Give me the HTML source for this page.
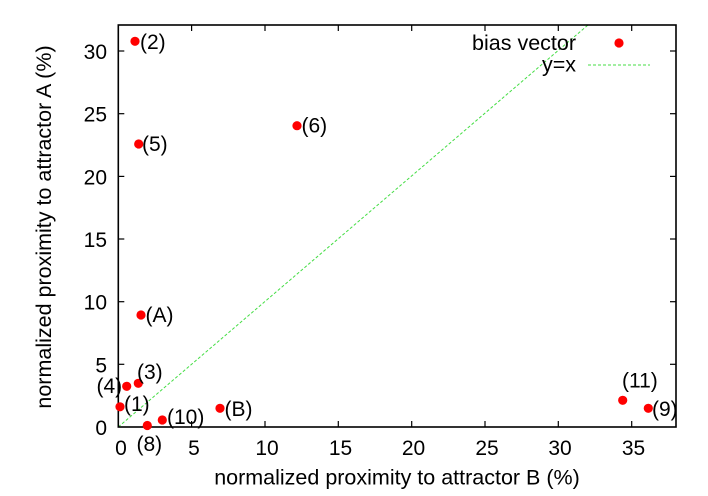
<!DOCTYPE html>
<html>
<head>
<meta charset="utf-8">
<style>
html,body{margin:0;padding:0;background:#fff;}
svg{display:block;}
text{font-family:"Liberation Sans",Arial,sans-serif;font-size:21px;fill:#000;}
text.big{font-size:21.5px;}
</style>
</head>
<body>
<svg width="708" height="496" viewBox="0 0 708 496" xmlns="http://www.w3.org/2000/svg">
<rect x="0" y="0" width="708" height="496" fill="#fff"/>

<!-- y=x line -->
<line x1="118.3" y1="427" x2="588" y2="25" stroke="#44dd44" stroke-width="1" stroke-dasharray="3,2"/>

<!-- frame -->
<rect x="118.3" y="25" width="557.7" height="402" fill="none" stroke="#000" stroke-width="1.6"/>

<!-- ticks -->
<g stroke="#000" stroke-width="1.2">
  <line x1="191.6" y1="427" x2="191.6" y2="421"/>
  <line x1="265" y1="427" x2="265" y2="421"/>
  <line x1="338.3" y1="427" x2="338.3" y2="421"/>
  <line x1="411.7" y1="427" x2="411.7" y2="421"/>
  <line x1="485" y1="427" x2="485" y2="421"/>
  <line x1="558.3" y1="427" x2="558.3" y2="421"/>
  <line x1="631.7" y1="427" x2="631.7" y2="421"/>
  <line x1="191.6" y1="25" x2="191.6" y2="31"/>
  <line x1="265" y1="25" x2="265" y2="31"/>
  <line x1="338.3" y1="25" x2="338.3" y2="31"/>
  <line x1="411.7" y1="25" x2="411.7" y2="31"/>
  <line x1="485" y1="25" x2="485" y2="31"/>
  <line x1="558.3" y1="25" x2="558.3" y2="31"/>
  <line x1="631.7" y1="25" x2="631.7" y2="31"/>
  <line x1="118.3" y1="364.3" x2="124.3" y2="364.3"/>
  <line x1="118.3" y1="301.7" x2="124.3" y2="301.7"/>
  <line x1="118.3" y1="239" x2="124.3" y2="239"/>
  <line x1="118.3" y1="176.4" x2="124.3" y2="176.4"/>
  <line x1="118.3" y1="113.7" x2="124.3" y2="113.7"/>
  <line x1="118.3" y1="51" x2="124.3" y2="51"/>
  <line x1="676" y1="364.3" x2="670" y2="364.3"/>
  <line x1="676" y1="301.7" x2="670" y2="301.7"/>
  <line x1="676" y1="239" x2="670" y2="239"/>
  <line x1="676" y1="176.4" x2="670" y2="176.4"/>
  <line x1="676" y1="113.7" x2="670" y2="113.7"/>
  <line x1="676" y1="51" x2="670" y2="51"/>
</g>

<!-- y tick labels -->
<g text-anchor="end">
  <text x="107" y="435">0</text>
  <text x="107" y="372.3">5</text>
  <text x="107" y="309.7">10</text>
  <text x="107" y="247">15</text>
  <text x="107" y="184.4">20</text>
  <text x="107" y="121.7">25</text>
  <text x="107" y="59">30</text>
</g>

<!-- x tick labels -->
<g text-anchor="middle">
  <text x="121" y="455">0</text>
  <text x="194" y="455">5</text>
  <text x="267" y="455">10</text>
  <text x="340.5" y="455">15</text>
  <text x="413.5" y="455">20</text>
  <text x="487" y="455">25</text>
  <text x="560" y="455">30</text>
  <text x="633.5" y="455">35</text>
</g>

<!-- axis labels -->
<text class="big" x="397" y="484.5" text-anchor="middle">normalized proximity to attractor B (%)</text>
<text class="big" transform="translate(51,227) rotate(-90)" text-anchor="middle">normalized proximity to attractor A (%)</text>

<!-- legend -->
<text class="big" x="576" y="50" text-anchor="end">bias vector</text>
<circle cx="619" cy="43" r="4.6" fill="#ff0000"/>
<text class="big" x="576" y="71.5" text-anchor="end">y=x</text>
<line x1="588" y1="65" x2="650" y2="65" stroke="#44dd44" stroke-width="1" stroke-dasharray="3,2"/>

<!-- points -->
<g fill="#ff0000">
  <circle cx="135" cy="41.3" r="4.6"/>
  <circle cx="138.7" cy="144" r="4.6"/>
  <circle cx="297" cy="125.7" r="4.6"/>
  <circle cx="141" cy="315" r="4.6"/>
  <circle cx="138.3" cy="383.3" r="4.6"/>
  <circle cx="126.7" cy="386.3" r="4.6"/>
  <circle cx="120" cy="406.8" r="4.6"/>
  <circle cx="147.3" cy="425.5" r="4.6"/>
  <circle cx="162.3" cy="420" r="4.6"/>
  <circle cx="220" cy="408.3" r="4.6"/>
  <circle cx="622.7" cy="400.3" r="4.6"/>
  <circle cx="648.3" cy="408.3" r="4.6"/>
</g>

<!-- point labels -->
<text x="140" y="49">(2)</text>
<text x="142" y="150.8">(5)</text>
<text x="301.5" y="132.5">(6)</text>
<text x="145.5" y="322">(A)</text>
<text x="137" y="378.8">(3)</text>
<text x="96.5" y="392.8">(4)</text>
<text x="124" y="410.8">(1)</text>
<text x="136.5" y="450.8">(8)</text>
<text x="167" y="423.8">(10)</text>
<text x="224.5" y="415.8">(B)</text>
<text x="622" y="387.5">(11)</text>
<text x="652" y="415.8">(9)</text>
</svg>
</body>
</html>
